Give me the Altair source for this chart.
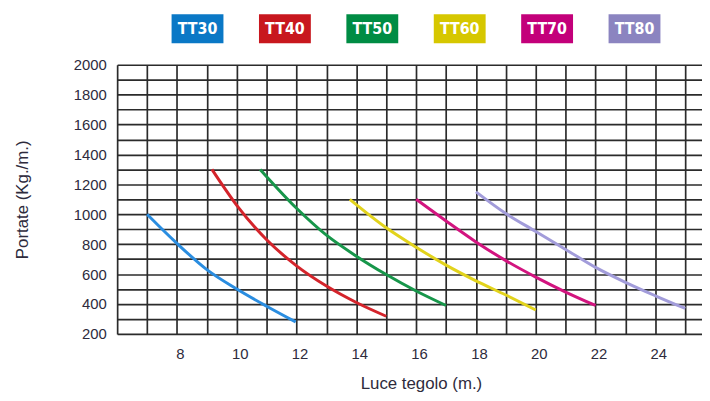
import altair as alt
import pandas as pd

# ---- data ----
series = ["TT30", "TT40", "TT50", "TT60", "TT70", "TT80"]
box_colors = ["#0a78c6", "#c8171e", "#008c44", "#d6c700", "#c3007a", "#8b84c0"]
line_colors = ["#2a8de0", "#d4242b", "#17964a", "#e2d31c", "#d2147f", "#a29cda"]

tt30_x = [7.0, 8, 9, 10, 11, 11.97]
tt30_y = [1000, 805, 630, 500, 385, 280]
tt40_x = [9.17, 10, 11, 12, 13, 14, 15]
tt40_y = [1300, 1060, 830, 655, 520, 410, 318]
tt50_x = [10.78, 12, 13, 14, 15, 16, 17]
tt50_y = [1300, 1040, 860, 720, 597, 487, 390]
tt60_x = [13.78, 15, 16, 17, 18, 19, 20]
tt60_y = [1100, 910, 780, 660, 555, 460, 360]
tt70_x = [16, 17, 18, 19, 20, 21, 22]
tt70_y = [1100, 955, 815, 690, 580, 480, 390]
tt80_x = [18, 19, 20, 21, 22, 23, 24, 25]
tt80_y = [1150, 1005, 885, 765, 645, 545, 455, 370]

x_grid = list(range(6, 26))
y_grid = list(range(200, 2001, 100))

curves = [tt30_x, tt40_x, tt50_x, tt60_x, tt70_x, tt80_x]
loads = [tt30_y, tt40_y, tt50_y, tt60_y, tt70_y, tt80_y]

rows = []
for name, xs, ys in zip(series, curves, loads):
    for i, (a, b) in enumerate(zip(xs, ys)):
        rows.append({"serie": name, "luce": a, "portata": b, "ord": i})
df = pd.DataFrame(rows)
legend_df = pd.DataFrame({"serie": series})

FONT = "Liberation Sans"
TXT = "#2e2b3c"

lines = alt.Chart(df).mark_line(strokeWidth=3, interpolate="monotone").encode(
    x=alt.X(
        "luce:Q",
        scale=alt.Scale(domain=[6, 25.56], nice=False, zero=False),
        axis=alt.Axis(
            values=x_grid,
            labelExpr="datum.value >= 8 && datum.value % 2 === 0 ? datum.label : ''",
            title="Luce tegolo (m.)",
            titleX=307, titleY=50, titleBaseline="middle",
            labelPadding=13, labelOffset=3, labelOverlap=False, labelFlush=False,
        ),
    ),
    y=alt.Y(
        "portata:Q",
        scale=alt.Scale(domain=[200, 2000], nice=False, zero=False),
        axis=alt.Axis(
            values=y_grid, format="d",
            labelExpr="datum.value % 200 === 0 ? datum.label : ''",
            title="Portate (Kg./m.)",
            titleX=-96, titleBaseline="middle",
            labelPadding=11, labelOverlap=False, labelFlush=False,
        ),
    ),
    color=alt.Color("serie:N", scale=alt.Scale(domain=series, range=line_colors), legend=None),
    order="ord:Q",
    detail="serie:N",
)

band = alt.Scale(type="band", domain=series, range=[55, 549], paddingInner=0.4066, paddingOuter=0)

legend_boxes = alt.Chart(legend_df).mark_rect().encode(
    x=alt.X("serie:N", scale=band, axis=None),
    y=alt.value(-51),
    y2=alt.value(-21.6),
    fill=alt.Fill("serie:N", scale=alt.Scale(domain=series, range=box_colors), legend=None),
)

legend_text = alt.Chart(legend_df).mark_text(
    font="DejaVu Sans Condensed", fontWeight="bold", fontSize=16,
    color="white", baseline="middle", align="center",
).encode(
    x=alt.X("serie:N", scale=band, axis=None, bandPosition=0.5),
    y=alt.value(-36.3),
    text="serie:N",
)

chart = alt.layer(lines, legend_boxes, legend_text).resolve_scale(
    x="independent", y="independent", color="independent", fill="independent"
).properties(
    width=591, height=272,
    padding={"left": 110.3, "top": 55.3, "right": 0, "bottom": 60},
    autosize=alt.AutoSizeParams(type="none"),
).configure_view(stroke=None).configure_axis(
    grid=True, gridColor="#2b2b2b", gridWidth=1.7, gridOpacity=1,
    ticks=False, domain=False,
    labelFont=FONT, labelFontSize=15, labelColor=TXT,
    titleFont=FONT, titleFontSize=17, titleFontWeight="normal", titleColor=TXT,
)

chart.save("out.html", embed_options={"renderer": "svg", "actions": False})
